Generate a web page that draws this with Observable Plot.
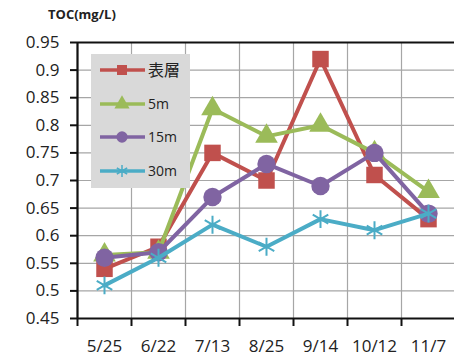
<!DOCTYPE html>
<html><head><meta charset="utf-8">
<script src="https://cdn.jsdelivr.net/npm/d3@7"></script>
<script src="https://cdn.jsdelivr.net/npm/@observablehq/plot@0.6"></script>
<style>
body{margin:0;background:#fff;}
#wrap{position:relative;width:454px;height:363px;overflow:hidden;font-family:"Open Sans",sans-serif;}
#title{position:absolute;left:48px;top:5px;font:bold 13px "Open Sans",sans-serif;color:#222;}
#legend{position:absolute;left:91px;top:54px;}
</style></head><body><div id="wrap"><div id="title">TOC(mg/L)</div></div>
<script>
const dates = ["5/25","6/22","7/13","8/25","9/14","10/12","11/7"];
const seriesNames = ["表層","5m","15m","30m"];
const surface = [0.54,0.58,0.75,0.70,0.92,0.71,0.63];
const m5 = [0.565,0.57,0.83,0.78,0.80,0.75,0.68];
const m15 = [0.56,0.57,0.67,0.73,0.69,0.75,0.64];
const m30 = [0.51,0.56,0.62,0.58,0.63,0.61,0.64];
const yTicks = [0.45,0.5,0.55,0.6,0.65,0.7,0.75,0.8,0.85,0.9,0.95];
const colors = ["#C0504D","#9BBB59","#8064A2","#4BACC6"];
const symbols = ["square","triangle","circle","asterisk"];
const seriesValues = [surface, m5, m15, m30];

const rows = seriesValues.map((vals, s) => vals.map((v, i) => ({series: seriesNames[s], i, date: dates[i], value: v})));
const boundaries = d3.range(dates.length + 1).map(k => k - 0.5);
const fmt = d => String(+d.toFixed(2));
const sizes = [9.3, 8.4, 9.2, 8.5];

const marks = [
  Plot.ruleY(yTicks, {stroke: "#a6a6a6", strokeWidth: 1.2}),
  Plot.ruleX(boundaries, {stroke: "#a6a6a6", strokeWidth: 1.2}),
  Plot.ruleY([0.95], {stroke: "#111", strokeWidth: 2}),
  Plot.ruleY([0.45], {stroke: "#111", strokeWidth: 2}),
  Plot.ruleX([-0.5], {stroke: "#111", strokeWidth: 2.2}),
  Plot.axisY({ticks: yTicks, tickFormat: fmt, tickSize: 7, tickPadding: 11, fontSize: 17, stroke: "#111", strokeWidth: 2, color: "#222", label: null}),
  Plot.axisX({ticks: boundaries, tickFormat: () => "", tickSize: 8, stroke: "#111", strokeWidth: 2, label: null}),
  Plot.axisX({ticks: d3.range(dates.length), tickFormat: i => dates[i], tickSize: 0, tickPadding: 21, fontSize: 17, color: "#222", label: null})
];
rows.forEach((r, s) => {
  marks.push(Plot.line(r, {x: "i", y: "value", stroke: colors[s], strokeWidth: 4}));
  if (symbols[s] === "asterisk") {
    marks.push(Plot.dot(r, {x: "i", y: "value", symbol: "asterisk", stroke: colors[s], strokeWidth: 2, r: sizes[s]}));
  } else {
    marks.push(Plot.dot(r, {x: "i", y: "value", symbol: symbols[s], fill: colors[s], stroke: "none", r: sizes[s]}));
  }
});

const chart = Plot.plot({
  width: 454, height: 363,
  marginLeft: 77, marginRight: 0, marginTop: 42, marginBottom: 45,
  x: {type: "linear", domain: [-0.5, 6.5], range: [77, 455], axis: null, label: null},
  y: {domain: [0.45, 0.95], range: [318, 42], axis: null, label: null},
  style: {fontFamily: "Open Sans, sans-serif", background: "transparent"},
  marks
});
document.getElementById("wrap").appendChild(chart);

// legend
const lw = 99, lh = 134;
const leg = d3.create("svg").attr("id", "legend").attr("width", lw).attr("height", lh);
leg.append("rect").attr("width", lw).attr("height", lh).attr("fill", "#d9d9d9");
const ys = [16, 50, 83, 117];
seriesNames.forEach((n, s) => {
  const g = leg.append("g").attr("transform", `translate(0,${ys[s]})`);
  g.append("line").attr("x1", 9).attr("x2", 54).attr("stroke", colors[s]).attr("stroke-width", 3.5);
  const sym = {square: d3.symbolSquare, triangle: d3.symbolTriangle, circle: d3.symbolCircle, asterisk: d3.symbolAsterisk}[symbols[s]];
  const p = g.append("path").attr("transform", "translate(31,0)").attr("d", d3.symbol(sym, 100)());
  if (symbols[s] === "asterisk") p.attr("fill", "none").attr("stroke", colors[s]).attr("stroke-width", 1.5);
  else p.attr("fill", colors[s]);
  g.append("text").attr("x", 57).attr("y", 0).attr("dy", "0.35em").attr("font-size", s === 0 ? 16 : 14)
    .attr("font-family", s === 0 ? "Noto Sans CJK JP, sans-serif" : "Open Sans, sans-serif").attr("fill", "#222").text(n);
});
document.getElementById("wrap").appendChild(leg.node());
</script></body></html>
